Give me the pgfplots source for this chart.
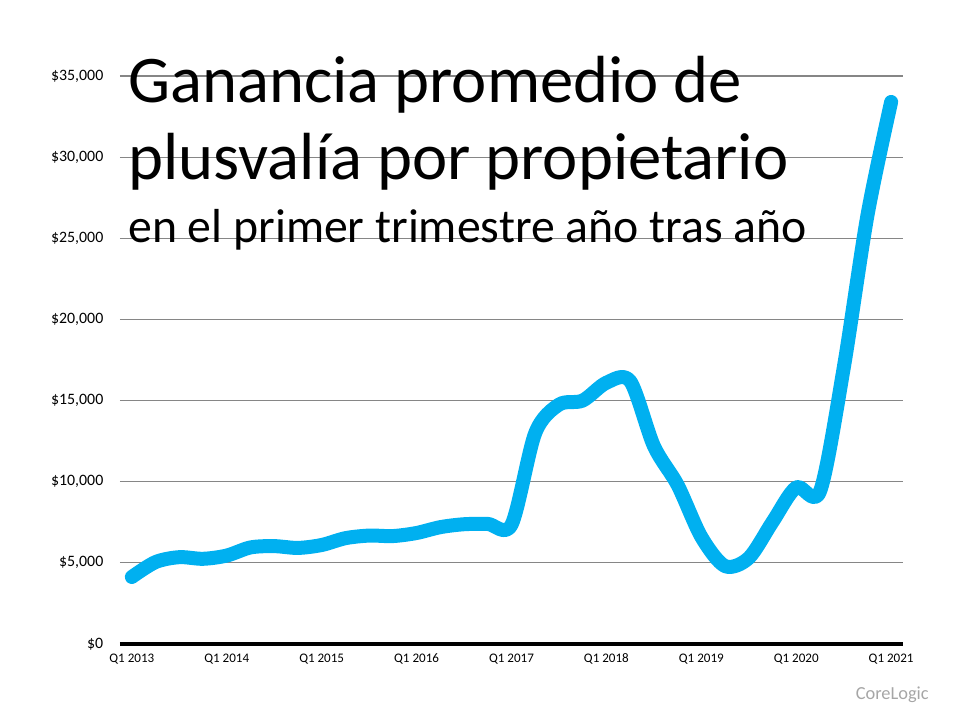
\documentclass[border=0pt]{standalone}
\usepackage{pgfplots}
\pgfplotsset{compat=1.18}
\usepackage{fontspec}
\setmainfont{Carlito}
\definecolor{lineblue}{HTML}{00B0F0}
\definecolor{gridgray}{HTML}{868686}
\definecolor{logogray}{HTML}{A6A6A6}
\begin{document}
\begin{tikzpicture}
  % page = 960x720 px at 0.75pt per px
  \useasboundingbox (-90pt,-57pt) rectangle (630pt,483pt);
  \begin{axis}[
    at={(0,0)}, anchor=south west,
    scale only axis,
    width=587.25pt, height=426pt,
    xmin=-0.5, xmax=32.5,
    ymin=0, ymax=35000,
    scaled y ticks=false,
    axis x line=bottom,
    axis y line=left,
    x axis line style={-, line width=3pt, black},
    y axis line style={draw=none},
    major tick length=0pt,
    xtick={0,4,...,32},
    xticklabels={Q1 2013,Q1 2014,Q1 2015,Q1 2016,Q1 2017,Q1 2018,Q1 2019,Q1 2020,Q1 2021},
    ytick={0,5000,...,35000},
    yticklabels={{\$0},{\$5,000},{\$10,000},{\$15,000},{\$20,000},{\$25,000},{\$30,000},{\$35,000}},
    xticklabel style={font=\fontsize{9.8pt}{11pt}\selectfont, yshift=-4pt},
    yticklabel style={font=\fontsize{11.9pt}{13pt}\selectfont, xshift=-9pt},
    ymajorgrids,
    grid style={gridgray, line width=0.8pt},
    clip=false,
  ]
    % average equity gain per owner, Q1 2013 .. Q1 2021 (quarterly)
    \addplot[lineblue, line width=10.5pt, smooth, line cap=round, line join=round] coordinates {
      (0, 4130)
      (1, 5050)
      (2, 5350)
      (3, 5250)
      (4, 5450)
      (5, 5950)
      (6, 6030)
      (7, 5920)
      (8, 6100)
      (9, 6520)
      (10, 6680)
      (11, 6650)
      (12, 6840)
      (13, 7200)
      (14, 7380)
      (15, 7400)
      (16, 7350)
      (17, 13000)
      (18, 14750)
      (19, 15000)
      (20, 16100)
      (21, 16200)
      (22, 12200)
      (23, 9800)
      (24, 6600)
      (25, 4800)
      (26, 5300)
      (27, 7520)
      (28, 9650)
      (29, 9400)
      (30, 17000)
      (31, 26400)
      (32, 33400)
    };
  \end{axis}
  % title
  \node[anchor=base west, inner sep=0pt] at (6pt,405.75pt)
    {\fontsize{50pt}{52pt}\selectfont Ganancia promedio de};
  \node[anchor=base west, inner sep=0pt] at (6pt,348pt)
    {\fontsize{50pt}{52pt}\selectfont plusvalía por propietario};
  \node[anchor=base west, inner sep=0pt] at (6pt,300.75pt)
    {\fontsize{35.8pt}{37pt}\selectfont en el primer trimestre año tras año};
  \node[anchor=base east, inner sep=0pt, text=logogray] at (606.75pt,-42pt)
    {\fontsize{13.8pt}{15pt}\selectfont CoreLogic};
\end{tikzpicture}
\end{document}
